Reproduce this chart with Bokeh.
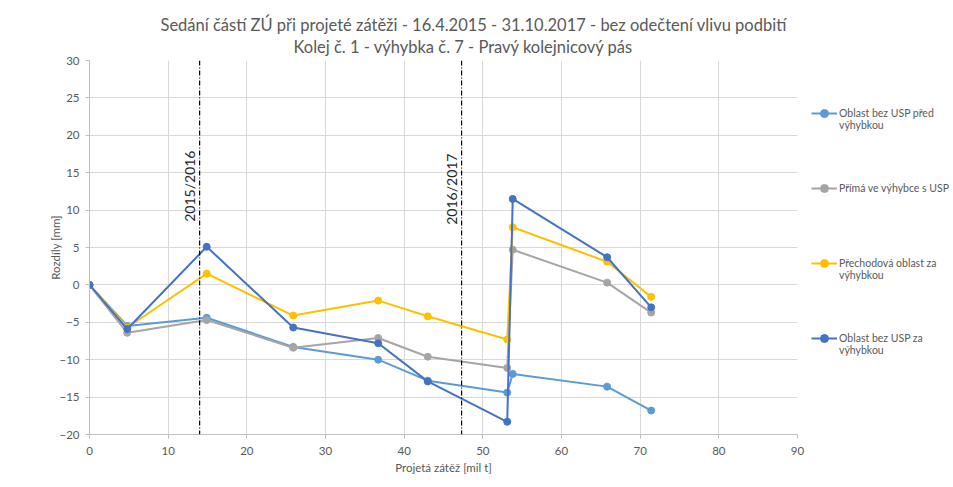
from bokeh.plotting import figure
from bokeh.models import Legend, LegendItem, Span, Label, Title, FixedTicker
from bokeh.embed import file_html
from bokeh.resources import INLINE
import math

# ---- data ----
zatez = [0, 4.8, 14.9, 25.9, 36.7, 43.0, 53.1, 53.8, 65.8, 71.4]
pred_vyhybkou = [0, -5.5, -4.4, -8.3, -10.0, -12.8, -14.4, -11.9, -13.6, -16.8]
prima_usp = [0, -6.4, -4.7, -8.4, -7.1, -9.6, -11.1, 4.7, 0.3, -3.7]
prechodova = [0, -5.7, 1.5, -4.1, -2.1, -4.2, -7.3, 7.7, 3.1, -1.6]
za_vyhybkou = [0, -5.9, 5.1, -5.7, -7.8, -12.9, -18.3, 11.5, 3.7, -3.0]

series_names = ["\nOblast bez USP před\nvýhybkou", "Přímá ve výhybce s USP",
                "\nPřechodová oblast za\nvýhybkou", "\nOblast bez USP za\nvýhybkou"]
series_colors = ["#5B9BD5", "#A5A5A5", "#FFC000", "#4472C4"]

season_x = [14.0, 47.3]
season_labels = ["2015/2016", "2016/2017"]
season_label_y = [13.2, 12.8]

x_ticks = [0, 10, 20, 30, 40, 50, 60, 70, 80, 90]
y_ticks = [-20, -15, -10, -5, 0, 5, 10, 15, 20, 25, 30]

title_lines = ["Sedání částí ZÚ při projeté zátěži - 16.4.2015 - 31.10.2017 - bez odečtení vlivu podbití",
               "Kolej č. 1 - výhybka č. 7 - Pravý kolejnicový pás"]

FONT = "Lato"
TXT = "#595959"

p = figure(frame_width=708, frame_height=374, min_border_left=89, min_border_top=60,
           min_border_bottom=10, min_border_right=10,
           x_range=(0, 90), y_range=(-20, 30),
           output_backend="svg", toolbar_location=None)

p.add_layout(Title(text=title_lines[1], align="left", offset=204, text_font=FONT,
                   text_font_size="16.5px", text_color=TXT, text_font_style="normal",
                   standoff=8), "above")
p.add_layout(Title(text=title_lines[0], align="left", offset=71, text_font=FONT,
                   text_font_size="16.5px", text_color=TXT, text_font_style="normal",
                   standoff=-9), "above")

p.xaxis.ticker = FixedTicker(ticks=x_ticks)
p.yaxis.ticker = FixedTicker(ticks=y_ticks)
p.xaxis.axis_label = "Projetá zátěž [mil t]"
p.yaxis.axis_label = "Rozdíly [mm]"
for ax in (p.xaxis[0], p.yaxis[0]):
    ax.axis_label_text_font = FONT
    ax.axis_label_text_font_size = "11.5px"
    ax.axis_label_text_font_style = "normal"
    ax.axis_label_text_color = TXT
    ax.major_label_text_font = FONT
    ax.major_label_text_font_size = "11.5px"
    ax.major_label_text_color = TXT
    ax.axis_line_color = "#BFBFBF"
    ax.major_tick_line_color = "#BFBFBF"
    ax.minor_tick_line_color = None
    ax.major_tick_in = 0
    ax.major_tick_out = 4
p.xaxis.major_label_standoff = 8
p.yaxis.major_label_standoff = 6
p.xaxis.axis_label_standoff = 3
p.yaxis.axis_label_standoff = -6

p.xgrid.grid_line_color = "#D9D9D9"
p.ygrid.grid_line_color = "#D9D9D9"
p.xgrid.ticker = FixedTicker(ticks=x_ticks)
p.ygrid.ticker = FixedTicker(ticks=y_ticks)
p.outline_line_color = None

for xs in season_x:
    p.add_layout(Span(location=xs, dimension="height", line_color="#000000",
                      line_width=1.2, line_dash="5 2 1 2"))
for xs, lab, ly in zip(season_x, season_labels, season_label_y):
    p.add_layout(Label(x=xs, y=ly, text=lab, angle=math.pi / 2, text_align="center",
                       text_baseline="bottom", x_offset=-2, text_font=FONT,
                       text_font_size="14px", text_color="#262626"))

items = []
for ys, name, col in zip([pred_vyhybkou, prima_usp, prechodova, za_vyhybkou],
                         series_names, series_colors):
    r1 = p.line(zatez, ys, line_color=col, line_width=2)
    r2 = p.scatter(zatez, ys, size=7, fill_color=col, line_color=col)
    items.append(LegendItem(label=name, renderers=[r1, r2]))

legend = Legend(items=items, location=(14, 66), label_text_font=FONT,
                label_text_font_size="10.5px", label_text_color=TXT,
                glyph_width=26, spacing=15, border_line_color=None,
                background_fill_alpha=0, margin=14, padding=12, label_standoff=2,
                label_height=60)
p.add_layout(legend, "right")

open("out.html", "w").write(file_html(p, INLINE))
